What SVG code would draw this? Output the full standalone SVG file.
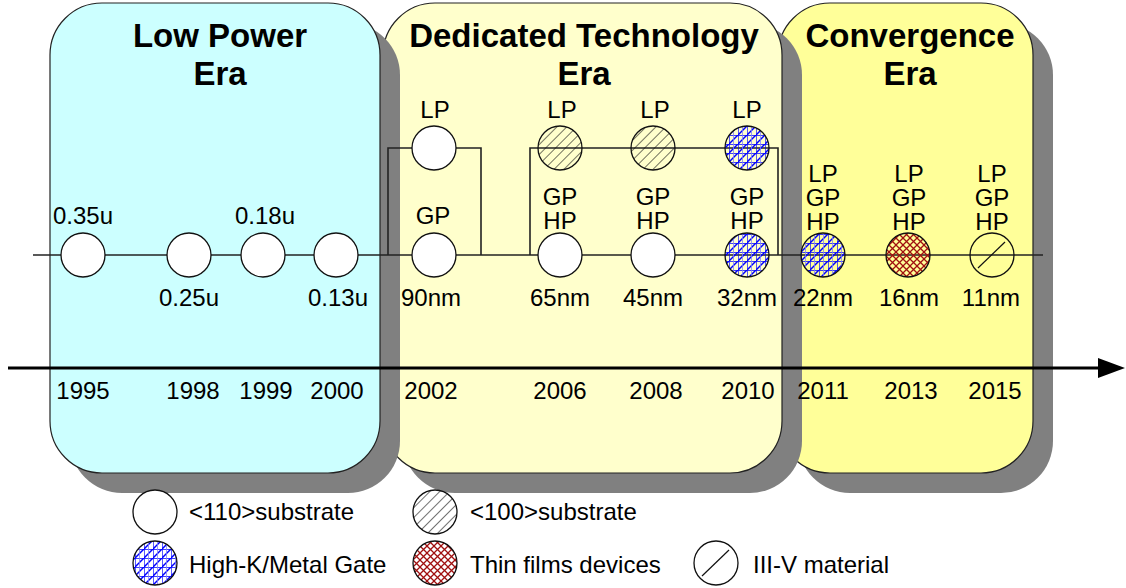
<svg xmlns="http://www.w3.org/2000/svg" width="1126" height="588" viewBox="0 0 1126 588">
<defs>
<style>
.t{font-family:"Liberation Sans",Arial,sans-serif;font-size:24px;fill:#000;text-anchor:middle}
.tl{font-family:"Liberation Sans",Arial,sans-serif;font-size:24px;fill:#000}
.h{font-family:"Liberation Sans",Arial,sans-serif;font-size:33px;font-weight:bold;fill:#000;text-anchor:middle}
.box{stroke:#222;stroke-width:1.2}
.sh{fill:#808080}
.c{stroke:#111;stroke-width:1.3}
.ln{fill:none;stroke:#222;stroke-width:1.6}
</style>
<pattern id="p100" patternUnits="userSpaceOnUse" width="7" height="7" patternTransform="rotate(45)">
<line x1="0" y1="0" x2="0" y2="7" stroke="#111" stroke-width="1.2"/>
</pattern>
<pattern id="phk" patternUnits="userSpaceOnUse" width="9" height="9">
<path d="M0,0V9M0,0H9" stroke="#0000ff" stroke-width="1.3" fill="none"/>
<path d="M0,9L9,0" stroke="#0000ff" stroke-width="1.5" fill="none"/>
<path d="M4.5,0V9" stroke="#8080ff" stroke-width="0.8" fill="none"/>
</pattern>
<pattern id="ptf" patternUnits="userSpaceOnUse" width="7" height="7">
<path d="M0,0L7,7M7,0L0,7" stroke="#a01010" stroke-width="1.3" fill="none"/>
</pattern>
</defs>

<g id="era-convergence">
<rect class="sh" x="798" y="23" width="255" height="470" rx="52"/>
<rect class="box" x="778" y="3" width="255" height="470" rx="52" fill="#ffff99"/>
<text class="h" x="910" y="47">Convergence</text>
<text class="h" x="910" y="85">Era</text>
</g>
<g id="era-dedicated">
<rect class="sh" x="403" y="23" width="399" height="470" rx="52"/>
<rect class="box" x="383" y="3" width="399" height="470" rx="52" fill="#ffffcc"/>
<text class="h" x="584" y="47">Dedicated Technology</text>
<text class="h" x="584" y="85">Era</text>
</g>
<g id="era-lowpower">
<rect class="sh" x="70" y="23" width="330" height="470" rx="52"/>
<rect class="box" x="50" y="3" width="330" height="470" rx="52" fill="#ccffff"/>
<text class="h" x="220" y="47">Low Power</text>
<text class="h" x="220" y="85">Era</text>
</g>

<g id="connectors">
<line class="ln" x1="33" y1="255" x2="1043" y2="255"/>
<polyline class="ln" points="388,255 388,148 481,148 481,255"/>
<polyline class="ln" points="530,255 530,148 778,148 778,255"/>
<line x1="8" y1="368" x2="1100" y2="368" stroke="#000" stroke-width="3"/>
<polygon points="1098,358 1125,368 1098,378" fill="#000"/>
</g>

<g id="n-1995">
<circle class="c" cx="83" cy="255" r="22" fill="#fff"/>
<text class="t" x="83" y="224">0.35u</text>
<text class="t" x="83" y="399">1995</text>
</g>
<g id="n-1998">
<circle class="c" cx="189" cy="255" r="22" fill="#fff"/>
<text class="t" x="189" y="306">0.25u</text>
<text class="t" x="193" y="399">1998</text>
</g>
<g id="n-1999">
<circle class="c" cx="263" cy="255" r="22" fill="#fff"/>
<text class="t" x="265" y="224">0.18u</text>
<text class="t" x="266" y="399">1999</text>
</g>
<g id="n-2000">
<circle class="c" cx="336" cy="255" r="22" fill="#fff"/>
<text class="t" x="338" y="306">0.13u</text>
<text class="t" x="337" y="399">2000</text>
</g>
<g id="n-2002">
<circle class="c" cx="434" cy="148" r="22" fill="#fff"/>
<circle class="c" cx="434" cy="255" r="22" fill="#fff"/>
<text class="t" x="435" y="118">LP</text>
<text class="t" x="433" y="224">GP</text>
<text class="t" x="431" y="306">90nm</text>
<text class="t" x="431" y="399">2002</text>
</g>
<g id="n-2006">
<circle class="c" cx="560" cy="148" r="22" fill="url(#p100)"/>
<circle class="c" cx="560" cy="255" r="22" fill="#fff"/>
<text class="t" x="562" y="118">LP</text>
<text class="t" x="560" y="205">GP</text>
<text class="t" x="560" y="229">HP</text>
<text class="t" x="560" y="306">65nm</text>
<text class="t" x="560" y="399">2006</text>
</g>
<g id="n-2008">
<circle class="c" cx="653" cy="148" r="22" fill="url(#p100)"/>
<circle class="c" cx="653" cy="255" r="22" fill="#fff"/>
<text class="t" x="655" y="118">LP</text>
<text class="t" x="653" y="205">GP</text>
<text class="t" x="653" y="229">HP</text>
<text class="t" x="653" y="306">45nm</text>
<text class="t" x="656" y="399">2008</text>
</g>
<g id="n-2010">
<circle class="c" cx="747" cy="148" r="22" fill="url(#phk)"/>
<circle class="c" cx="747" cy="255" r="22" fill="url(#phk)"/>
<text class="t" x="747" y="118">LP</text>
<text class="t" x="747" y="205">GP</text>
<text class="t" x="747" y="229">HP</text>
<text class="t" x="747" y="306">32nm</text>
<text class="t" x="748" y="399">2010</text>
</g>
<g id="n-2011">
<circle class="c" cx="823" cy="255" r="22" fill="url(#phk)"/>
<text class="t" x="823" y="182">LP</text>
<text class="t" x="823" y="206">GP</text>
<text class="t" x="823" y="230">HP</text>
<text class="t" x="823" y="306">22nm</text>
<text class="t" x="823" y="399">2011</text>
</g>
<g id="n-2013">
<circle class="c" cx="908" cy="255" r="22" fill="url(#ptf)"/>
<text class="t" x="909" y="182">LP</text>
<text class="t" x="909" y="206">GP</text>
<text class="t" x="909" y="230">HP</text>
<text class="t" x="909" y="306">16nm</text>
<text class="t" x="911" y="399">2013</text>
</g>
<g id="n-2015">
<circle class="c" cx="992" cy="255" r="22" fill="none"/>
<line x1="978" y1="268" x2="1005" y2="242" stroke="#111" stroke-width="1.2"/>
<text class="t" x="992" y="182">LP</text>
<text class="t" x="992" y="206">GP</text>
<text class="t" x="992" y="230">HP</text>
<text class="t" x="991" y="306">11nm</text>
<text class="t" x="995" y="399">2015</text>
</g>

<g id="legend">
<circle class="c" cx="155" cy="512" r="22" fill="#fff"/>
<text class="tl" x="189" y="520">&lt;110&gt;substrate</text>
<circle class="c" cx="435" cy="512" r="22" fill="url(#p100)"/>
<text class="tl" x="470" y="520">&lt;100&gt;substrate</text>
<circle class="c" cx="155" cy="563" r="22" fill="url(#phk)"/>
<text class="tl" x="189" y="573">High-K/Metal Gate</text>
<circle class="c" cx="435" cy="563" r="22" fill="url(#ptf)"/>
<text class="tl" x="470" y="573">Thin films devices</text>
<circle class="c" cx="716" cy="563" r="22" fill="none"/>
<line x1="702" y1="576" x2="729" y2="550" stroke="#111" stroke-width="1.2"/>
<text class="tl" x="753" y="573">III-V material</text>
</g>
</svg>
